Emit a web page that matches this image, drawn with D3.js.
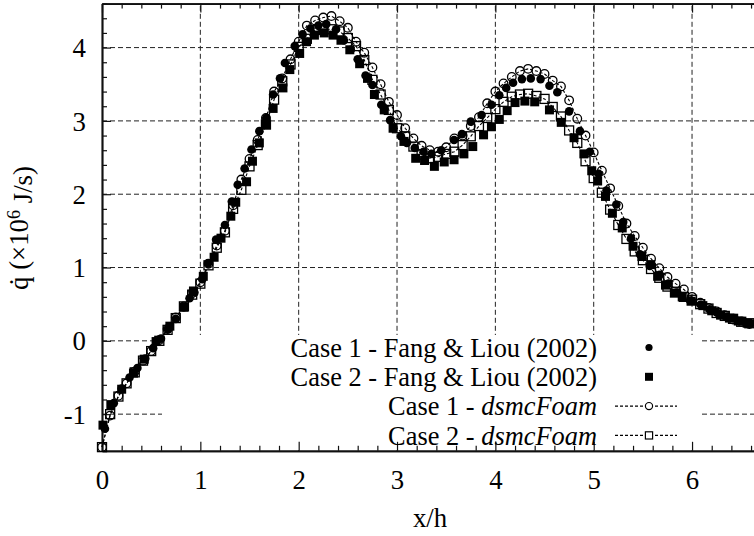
<!DOCTYPE html>
<html><head><meta charset="utf-8">
<script src="https://cdn.jsdelivr.net/npm/d3@7"></script>
<style>
body{margin:0;background:#fff}
svg{display:block}
text{font-family:"Liberation Serif","Times New Roman",serif;fill:#000}
</style>
</head><body><svg id="c" width="754" height="536"></svg>
<script>
// ---------------- data ----------------
const xTickValues = [0, 1, 2, 3, 4, 5, 6];
const yTickValues = [-1, 0, 1, 2, 3, 4];

const dsmcX = [
  0,0.083,0.167,0.25,0.333,0.417,0.5,0.583,0.667,0.75,0.833,0.917,
  1,1.083,1.167,1.25,1.333,1.417,1.5,1.583,1.667,1.75,1.833,1.917,
  2,2.083,2.167,2.25,2.333,2.417,2.5,2.583,2.667,2.75,2.833,2.917,
  3,3.083,3.167,3.25,3.333,3.417,3.5,3.583,3.667,3.75,3.833,3.917,
  4,4.083,4.167,4.25,4.333,4.417,4.5,4.583,4.667,4.75,4.833,4.917,
  5,5.083,5.167,5.25,5.333,5.417,5.5,5.583,5.667,5.75,5.833,5.917,
  6,6.083,6.167,6.25,6.333,6.417,6.5,6.583
];
const dsmcCase1 = [
  -1.45,-1.02,-0.75,-0.58,-0.42,-0.27,-0.14,0.01,0.16,0.32,0.47,0.65,
  0.80,1.05,1.30,1.50,1.85,2.20,2.48,2.74,3.04,3.40,3.58,3.84,
  4.08,4.30,4.37,4.41,4.43,4.36,4.27,4.08,3.93,3.73,3.50,3.26,
  3.08,2.90,2.76,2.66,2.60,2.58,2.64,2.76,2.80,2.93,3.05,3.24,
  3.40,3.51,3.60,3.68,3.71,3.68,3.64,3.55,3.47,3.28,3.03,2.80,
  2.57,2.32,2.08,1.84,1.60,1.43,1.27,1.12,0.99,0.87,0.78,0.70,
  0.60,0.52,0.45,0.40,0.35,0.29,0.26,0.23
];
const dsmcCase2 = [
  -1.45,-1.00,-0.76,-0.58,-0.43,-0.27,-0.14,0.00,0.15,0.31,0.47,0.63,
  0.78,1.03,1.27,1.48,1.80,2.06,2.38,2.67,2.95,3.29,3.54,3.77,
  4.01,4.12,4.24,4.25,4.25,4.22,4.13,4.02,3.83,3.56,3.36,3.15,
  2.90,2.79,2.65,2.54,2.49,2.51,2.55,2.58,2.67,2.79,2.93,3.04,
  3.16,3.26,3.33,3.36,3.37,3.34,3.30,3.19,3.06,2.87,2.70,2.45,
  2.22,2.02,1.79,1.58,1.39,1.22,1.10,0.98,0.86,0.74,0.67,0.60,
  0.56,0.50,0.44,0.38,0.34,0.30,0.26,0.24
];

const fangCase1X = [
  0.03,0.12,0.20,0.28,0.36,0.44,0.52,0.60,0.67,0.75,0.83,0.89,0.94,1.02,1.08,1.16,1.25,1.32,1.38,1.45,
  1.52,1.60,1.67,1.74,1.81,1.86,1.96,2.04,2.12,2.20,2.28,2.38,2.46,2.53,2.60,2.68,2.75,2.84,2.93,3.04,
  3.10,3.18,3.27,3.35,3.45,3.58,3.66,3.75,3.86,3.96,4.04,4.11,4.18,4.27,4.36,4.46,4.55,4.63,4.75,4.86,
  4.96,5.05,5.13,5.23,5.30,5.38,5.47,5.57,5.67,5.76,5.85,5.98,6.09,6.18,6.26,6.35,6.43,6.52,6.60
];
const fangCase1 = [
  -1.20,-0.85,-0.65,-0.50,-0.37,-0.24,-0.10,0.03,0.16,0.30,0.46,0.58,0.66,0.84,1.06,1.38,1.58,1.90,2.13,2.35,
  2.61,2.86,3.04,3.36,3.58,3.79,4.02,4.18,4.26,4.30,4.32,4.25,4.10,3.97,3.84,3.62,3.49,3.22,3.01,2.79,
  2.70,2.63,2.58,2.55,2.60,2.74,2.82,2.99,3.08,3.22,3.35,3.45,3.52,3.57,3.58,3.57,3.48,3.39,3.13,2.86,
  2.58,2.28,2.05,1.86,1.62,1.40,1.18,1.02,0.90,0.78,0.66,0.55,0.49,0.43,0.38,0.33,0.31,0.27,0.24
];

const fangCase2X = [
  0.01,0.09,0.20,0.32,0.43,0.55,0.69,0.83,0.93,1.03,1.14,1.21,1.31,1.36,1.47,1.53,1.60,1.67,1.74,1.84,
  1.91,2.01,2.08,2.16,2.26,2.35,2.43,2.52,2.62,2.70,2.77,2.87,2.96,3.07,3.19,3.28,3.38,3.48,3.58,3.68,
  3.77,3.88,3.96,4.04,4.12,4.20,4.30,4.40,4.55,4.67,4.80,4.90,4.98,5.04,5.12,5.19,5.29,5.40,5.49,5.58,
  5.65,5.73,5.82,5.90,5.99,6.11,6.20,6.29,6.38,6.47,6.56
];
const fangCase2 = [
  -1.15,-0.87,-0.66,-0.44,-0.25,-0.01,0.20,0.46,0.68,0.88,1.14,1.40,1.70,1.89,2.17,2.45,2.70,2.95,3.17,3.45,
  3.70,3.92,4.08,4.17,4.20,4.17,4.10,3.97,3.78,3.58,3.36,3.15,2.90,2.72,2.49,2.46,2.38,2.44,2.47,2.55,
  2.65,2.81,2.92,3.02,3.14,3.25,3.27,3.26,3.15,2.98,2.77,2.55,2.32,2.18,1.97,1.74,1.54,1.29,1.15,1.04,
  0.88,0.76,0.65,0.60,0.54,0.48,0.41,0.35,0.31,0.27,0.24
];

const legendLabels = [
  ["Case 1 - Fang & Liou (2002)", ""],
  ["Case 2 - Fang & Liou (2002)", ""],
  ["Case 1 - ", "dsmcFoam"],
  ["Case 2 - ", "dsmcFoam"]
];

// ---------------- chart ----------------
const W = 754, H = 536;
const FS = '26.8px';
const LFS = '26.4px';
const svg = d3.select('#c');
svg.append('rect').attr('width', W).attr('height', H).attr('fill', '#fff');

const x = d3.scaleLinear().domain([0, 6.63]).range([102, 754]);
const y = d3.scaleLinear().domain([-1.5, 4.6]).range([450.8, 3.6]);
const [x0, x1] = x.range();
const [yb, yt] = y.range();

// grid
const grid = svg.append('g').attr('stroke', '#222').attr('stroke-width', 1).attr('stroke-dasharray', '5,3');
grid.selectAll('.gy').data(yTickValues).join('line')
  .attr('x1', x0).attr('x2', x1).attr('y1', d => y(d)).attr('y2', d => y(d));
grid.selectAll('.gx').data(xTickValues.filter(d => d > 0)).join('line')
  .attr('x1', d => x(d)).attr('x2', d => x(d)).attr('y1', yb).attr('y2', yt);

// opaque key box
svg.append('rect').attr('x', 162).attr('y', 335).attr('width', 540).attr('height', 115).attr('fill', '#fff');

// minor ticks
const xMinor = d3.range(0.2, 6.62, 0.2).filter(d => Math.abs(d - Math.round(d)) > 1e-6);
const yMinor = d3.range(-1.4, 4.61, 0.2).filter(d => Math.abs(d - Math.round(d)) > 1e-6);
const fmt = d => String(d);

function styleAxis(g) {
  g.selectAll('.domain').attr('stroke', '#111').attr('stroke-width', 1.7);
  g.selectAll('.tick line').attr('stroke', '#111').attr('stroke-width', 1.2);
  g.selectAll('.tick text').style('font-family', '"Liberation Serif","Times New Roman",serif').style('font-size', FS).attr('fill', '#000');
}

// minor axes
svg.append('g').attr('transform', `translate(${x0},0)`)
  .call(d3.axisLeft(y).tickValues(yMinor).tickSize(-5).tickSizeOuter(0).tickFormat(''))
  .call(styleAxis);
svg.append('g').attr('transform', `translate(0,${yb})`)
  .call(d3.axisBottom(x).tickValues(xMinor).tickSize(-5).tickSizeOuter(0).tickFormat(''))
  .call(styleAxis);
svg.append('g').attr('transform', `translate(0,${yt})`)
  .call(d3.axisTop(x).tickValues(xMinor).tickSize(-5).tickSizeOuter(0).tickFormat(''))
  .call(styleAxis);

// major axes
svg.append('g').attr('transform', `translate(${x0},0)`)
  .call(d3.axisLeft(y).tickValues(yTickValues).tickSize(-9).tickSizeOuter(0).tickPadding(16).tickFormat(fmt))
  .call(styleAxis)
  .call(g => g.selectAll('.tick text').attr('dy', '0.34em'));
svg.append('g').attr('transform', `translate(0,${yb})`)
  .call(d3.axisBottom(x).tickValues(xTickValues).tickSize(-9).tickSizeOuter(0).tickPadding(19).tickFormat(fmt))
  .call(styleAxis);
svg.append('g').attr('transform', `translate(0,${yt})`)
  .call(d3.axisTop(x).tickValues(xTickValues).tickSize(-9).tickSizeOuter(0).tickFormat(''))
  .call(styleAxis);

// axis titles
svg.append('text').attr('x', 430).attr('y', 527).attr('text-anchor', 'middle')
  .style('font-size', FS).text('x/h');
const yl = svg.append('text').attr('transform', 'translate(28,228) rotate(-90)')
  .attr('text-anchor', 'middle').style('font-size', FS);
yl.append('tspan').text('q\u0307 (\u00d710');
yl.append('tspan').attr('dy', '-0.45em').style('font-size', '18px').text('6');
yl.append('tspan').attr('dy', '0.45em').text(' J/s)');

// data
const plot = svg.append('g');
const rC = 4.3, sq = 9;

function filledCircles(xs, vs) {
  plot.append('g').selectAll('circle').data(xs.map((d, i) => [d, vs[i]])).join('circle')
    .attr('cx', d => x(d[0])).attr('cy', d => y(d[1])).attr('r', rC).attr('fill', '#000');
}
function filledSquares(xs, vs) {
  plot.append('g').selectAll('rect').data(xs.map((d, i) => [d, vs[i]])).join('rect')
    .attr('x', d => x(d[0]) - sq / 2).attr('y', d => y(d[1]) - sq / 2)
    .attr('width', sq).attr('height', sq).attr('fill', '#000');
}
const lineGen = d3.line().x(d => x(d[0])).y(d => y(d[1]));
function dsmcSeries(vs, shape) {
  const pts = dsmcX.map((d, i) => [d, vs[i]]);
  plot.append('path').datum(pts).attr('d', lineGen).attr('fill', 'none')
    .attr('stroke', '#000').attr('stroke-width', 1.1).attr('stroke-dasharray', '3,2');
  const g = plot.append('g');
  if (shape === 'circle') {
    g.selectAll('circle').data(pts).join('circle')
      .attr('cx', d => x(d[0])).attr('cy', d => y(d[1])).attr('r', rC)
      .attr('fill', 'none').attr('stroke', '#000').attr('stroke-width', 1.3);
  } else {
    g.selectAll('rect').data(pts).join('rect')
      .attr('x', d => x(d[0]) - sq / 2).attr('y', d => y(d[1]) - sq / 2)
      .attr('width', sq).attr('height', sq)
      .attr('fill', 'none').attr('stroke', '#000').attr('stroke-width', 1.3);
  }
}
filledCircles(fangCase1X, fangCase1);
filledSquares(fangCase2X, fangCase2);
dsmcSeries(dsmcCase1, 'circle');
dsmcSeries(dsmcCase2, 'square');

// legend
const legY = [347.5, 376.8, 406.1, 435.4];
const lg = svg.append('g');
legendLabels.forEach((lab, i) => {
  const t = lg.append('text').attr('x', 597).attr('y', legY[i]).attr('dy', '0.35em')
    .attr('text-anchor', 'end').style('font-size', LFS);
  t.append('tspan').text(lab[0]);
  if (lab[1]) t.append('tspan').style('font-style', 'italic').text(lab[1]);
});
const mx = 649;
lg.append('circle').attr('cx', mx).attr('cy', legY[0]).attr('r', 3.6).attr('fill', '#000');
lg.append('rect').attr('x', mx - 4).attr('y', legY[1] - 4).attr('width', 8).attr('height', 8).attr('fill', '#000');
[2, 3].forEach(i => {
  lg.append('line').attr('x1', 615).attr('x2', 677).attr('y1', legY[i]).attr('y2', legY[i])
    .attr('stroke', '#000').attr('stroke-width', 1.1).attr('stroke-dasharray', '3,2');
});
lg.append('circle').attr('cx', mx).attr('cy', legY[2]).attr('r', 3.6).attr('fill', '#fff').attr('stroke', '#000').attr('stroke-width', 1.2);
lg.append('rect').attr('x', mx - 3.6).attr('y', legY[3] - 3.6).attr('width', 7.2).attr('height', 7.2).attr('fill', '#fff').attr('stroke', '#000').attr('stroke-width', 1.2);
</script>
</body></html>
